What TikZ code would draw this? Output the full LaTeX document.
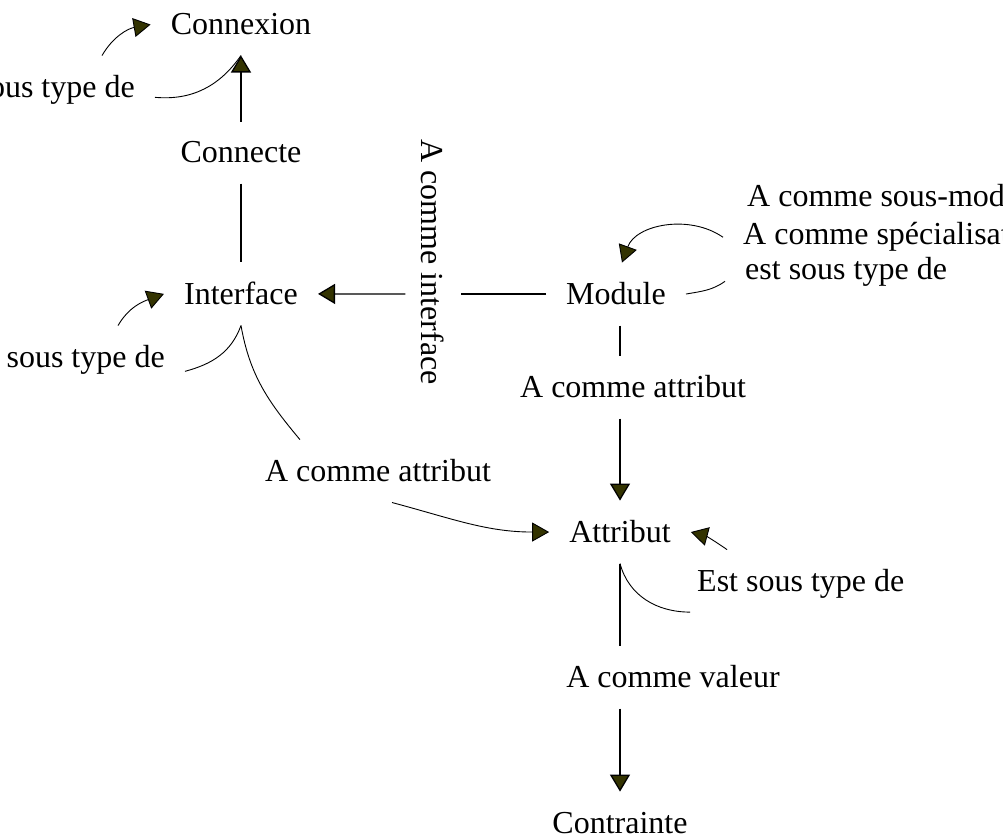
\documentclass[tikz,border=0pt]{standalone}
\usepackage{fontspec}
\setmainfont{Liberation Serif}
\usetikzlibrary{arrows.meta}
\definecolor{headfill}{RGB}{51,51,0}

\begin{document}
\begin{tikzpicture}[x=1pt, y=1pt,
	every node/.style={font=\fontsize{32}{38}\selectfont, inner xsep=20pt, inner ysep=20pt},
	concept/.style={anchor=base},
	link/.style={line width=1.3pt},
	linkarr/.style={line width=1.3pt, -{Triangle[length=17pt,width=20pt,fill=headfill]}},
	curvelink/.style={line width=0.9pt},
	curvearr/.style={line width=0.9pt, -{Triangle[length=17pt,width=19pt,fill=headfill]}}]
	% 1003 x 835 frame, texts cut at the edges
	\useasboundingbox (0,0) rectangle (1003,835);
	\clip (0,0) rectangle (1003,835);
	% left column
	\node[concept] (connexion) at (241,800) {Connexion};
	\node[concept] (connecte) at (241,672) {Connecte};
	\node[concept] (interface) at (241,530) {Interface};
	\node[anchor=base east] (stc) at (155,737) {sous type de};
	\node[anchor=base east] (sti) at (185,467) {sous type de};
	\node[concept] (attrlbl2) at (378,353) {A comme attribut};
	% middle
	\node[rotate=-90, inner ysep=16pt] (ifacelbl) at (433,573) {A comme interface};
	% right column
	\node[concept] (module) at (616,530) {Module};
	\node[anchor=base west] (modsub) at (727,628) {A comme sous-module};
	\node[anchor=base west] (modspec) at (723,590) {A comme spécialisation};
	\node[anchor=base west] (modtype) at (725,555) {est sous type de};
	\node[concept] (attrlbl) at (633,437) {A comme attribut};
	\node[concept] (attribut) at (620,292) {Attribut};
	\node[anchor=base west] (ests) at (677,243) {Est sous type de};
	\node[concept] (valeurlbl) at (673,147) {A comme valeur};
	\node[concept] (contrainte) at (620,2) {Contrainte};
	% straight links
	\draw[linkarr] (connecte) -- (connexion);
	\draw[link] (connecte) -- (interface);
	\draw[link] (module.west) -- (module.west -| ifacelbl.north);
	\draw[linkarr] (module.west -| ifacelbl.south) -- (interface.east);
	\draw[link] (module.south -| attribut) -- (attrlbl.north -| attribut);
	\draw[linkarr] (attrlbl.south -| attribut) -- (attribut);
	\draw[link] (attribut) -- (valeurlbl.north -| attribut);
	\draw[linkarr] (valeurlbl.south -| attribut) -- (contrainte);
	% sous type de - connexion
	\draw[curvearr] ([xshift=-53pt]stc.north east) to[out=60,in=190] (connexion.west);
	\draw[curvelink] ([yshift=-7pt]stc.east) to[out=-5,in=235] (connexion.south);
	% sous type de - interface
	\draw[curvearr] ([xshift=-67pt]sti.north east) to[out=60,in=200] (interface.west);
	\draw[curvelink] ([yshift=-11pt]sti.east) to[out=15,in=250] (interface.south);
	% interface attributes
	\draw[curvelink] (interface.south) to[out=-80,in=130] ([xshift=55pt]attrlbl2.north west);
	\draw[curvearr] ([xshift=14pt]attrlbl2.south) to[out=-15,in=180] (attribut.west);
	% module loops
	\draw[curvearr] (modspec.west) to[out=145,in=70] ([xshift=6pt]module.north);
	\draw[curvelink] ([yshift=-9pt]modtype.west) to[out=215,in=10] (module.east);
	% attribut loop
	\draw[curvearr] ([xshift=50pt]ests.north west) to[out=145,in=-15] (attribut.east);
	\draw[curvelink] ([xshift=13pt,yshift=7pt]ests.south west) to[out=180,in=-75] (attribut.south);
\end{tikzpicture}
\end{document}
